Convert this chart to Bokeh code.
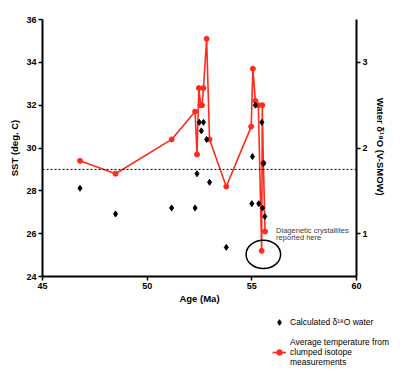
from bokeh.plotting import figure
from bokeh.layouts import column
from bokeh.models import (Range1d, LinearAxis, FixedTicker, Span, Label, Legend, LegendItem)
from bokeh.embed import file_html
from bokeh.resources import INLINE

# ---- data ----
sst_age = [46.79, 48.49, 51.17, 52.29, 52.38, 52.47, 52.55, 52.62, 52.69, 52.84,
           52.98, 53.78, 54.97, 55.05, 55.17, 55.31, 55.47, 55.50, 55.55, 55.63]
sst_temp = [29.4, 28.8, 30.4, 31.7, 29.7, 32.8, 32.0, 32.0, 32.8, 35.1,
            30.4, 28.2, 31.0, 33.7, 32.2, 32.0, 25.2, 32.0, 29.3, 26.1]

d18o_age = [46.79, 48.49, 51.17, 52.29, 52.38, 52.49, 52.59, 52.69, 52.84, 52.98,
            53.78, 55.00, 55.03, 55.17, 55.33, 55.48, 55.51, 55.55, 55.62]
d18o_val = [1.53, 1.23, 1.30, 1.30, 1.70, 2.30, 2.20, 2.30, 2.10, 1.60,
            0.84, 1.35, 1.90, 2.50, 1.35, 2.30, 1.30, 1.82, 1.20]

sst_ticks = [24, 26, 28, 30, 32, 34, 36]
age_ticks = [45, 50, 55, 60]
d18o_ticks = [1, 2, 3]
reference_sst = 29
legend_labels = ["Calculated δ¹⁸O water",
                 "Average temperature from\nclumped isotope\nmeasurements"]

FONT = "Liberation Sans"
RED = "#ff2b1c"

p = figure(width=416, height=310, x_range=Range1d(45, 60), y_range=Range1d(24, 36),
           output_backend="svg", toolbar_location=None,
           min_border_left=42, min_border_right=60, min_border_top=19, min_border_bottom=34)
p.frame_align = False
p.extra_y_ranges = {"d18o": Range1d(0.5, 3.5)}
p.outline_line_color = None
p.xgrid.visible = False
p.ygrid.visible = False

def style_axis(ax):
    ax.axis_line_width = 2
    ax.axis_line_color = "black"
    ax.major_tick_line_width = 1.5
    ax.major_tick_out = 4
    ax.major_tick_in = 0
    ax.minor_tick_line_color = None
    ax.major_label_text_font = FONT
    ax.major_label_text_font_style = "bold"
    ax.major_label_text_font_size = "9px"
    ax.major_label_text_color = "black"
    ax.major_label_standoff = 2
    ax.axis_label_text_font = FONT
    ax.axis_label_text_font_style = "bold"
    ax.axis_label_text_font_size = "9.5px"
    ax.axis_label_text_color = "black"

p.yaxis.ticker = FixedTicker(ticks=sst_ticks)
p.xaxis.ticker = FixedTicker(ticks=age_ticks)
p.yaxis.axis_label = "SST (deg. C)"
p.xaxis.axis_label = "Age (Ma)"
for ax in p.yaxis + p.xaxis:
    style_axis(ax)
p.yaxis.axis_label_standoff = 3
p.xaxis.axis_label_standoff = 1

right = LinearAxis(y_range_name="d18o", ticker=FixedTicker(ticks=d18o_ticks),
                   axis_label="Water  δ¹⁸O (V-SMOW)")
style_axis(right)
right.axis_label_standoff = 4
p.add_layout(right, "right")

p.add_layout(Span(location=reference_sst, dimension="width", line_color="black",
                  line_width=1, line_dash="2 2"))

line_style = dict(line_color=RED, line_width=1.6)
circ_style = dict(marker="circle", size=5, fill_color=RED, line_color=RED)
dia_style = dict(marker="diamond", size=6, fill_color="black", line_color="black")

p.line(sst_age, sst_temp, **line_style)
p.scatter(sst_age, sst_temp, **circ_style)
p.scatter(d18o_age, d18o_val, y_range_name="d18o", **dia_style)

p.ellipse(x=55.55, y=25.03, width=1.65, height=1.32, fill_color=None,
          line_color="black", line_width=1.5)
for txt, yy in [("Diagenetic crystallites", 26.15), ("reported here", 25.8)]:
    p.add_layout(Label(x=56.16, y=yy, text=txt, text_font=FONT, text_font_size="7.5px",
                       text_color="#3a3a3a", text_baseline="middle"))

# ---- legend panel below the chart (proxy renderers sit outside the visible range) ----
lg = figure(width=416, height=67, x_range=Range1d(0, 1), y_range=Range1d(0, 1),
            output_backend="svg", toolbar_location=None, x_axis_type=None, y_axis_type=None,
            min_border=0)
lg.frame_align = False
lg.outline_line_color = None
lg.xgrid.visible = False
lg.ygrid.visible = False
proxy_x, proxy_y = [-5], [-5]
g_dia = lg.scatter(proxy_x, proxy_y, **dia_style)
g_line = lg.line(proxy_x, proxy_y, **line_style)
g_circ = lg.scatter(proxy_x, proxy_y, **circ_style)

legend = Legend(items=[
    LegendItem(label=legend_labels[0], renderers=[g_dia]),
    LegendItem(label=legend_labels[1], renderers=[g_line, g_circ]),
], location=(272, 10))
legend.border_line_color = None
legend.background_fill_alpha = 0
legend.padding = 0
legend.margin = 0
legend.spacing = -14
legend.glyph_width = 14
legend.glyph_height = 30
legend.label_height = 30
legend.label_standoff = 4
legend.label_text_font = FONT
legend.label_text_font_size = "8.5px"
legend.label_text_line_height = 1.15
legend.label_text_color = "black"
lg.add_layout(legend, "center")

open("out.html", "w").write(file_html(column(p, lg, spacing=0), INLINE))
